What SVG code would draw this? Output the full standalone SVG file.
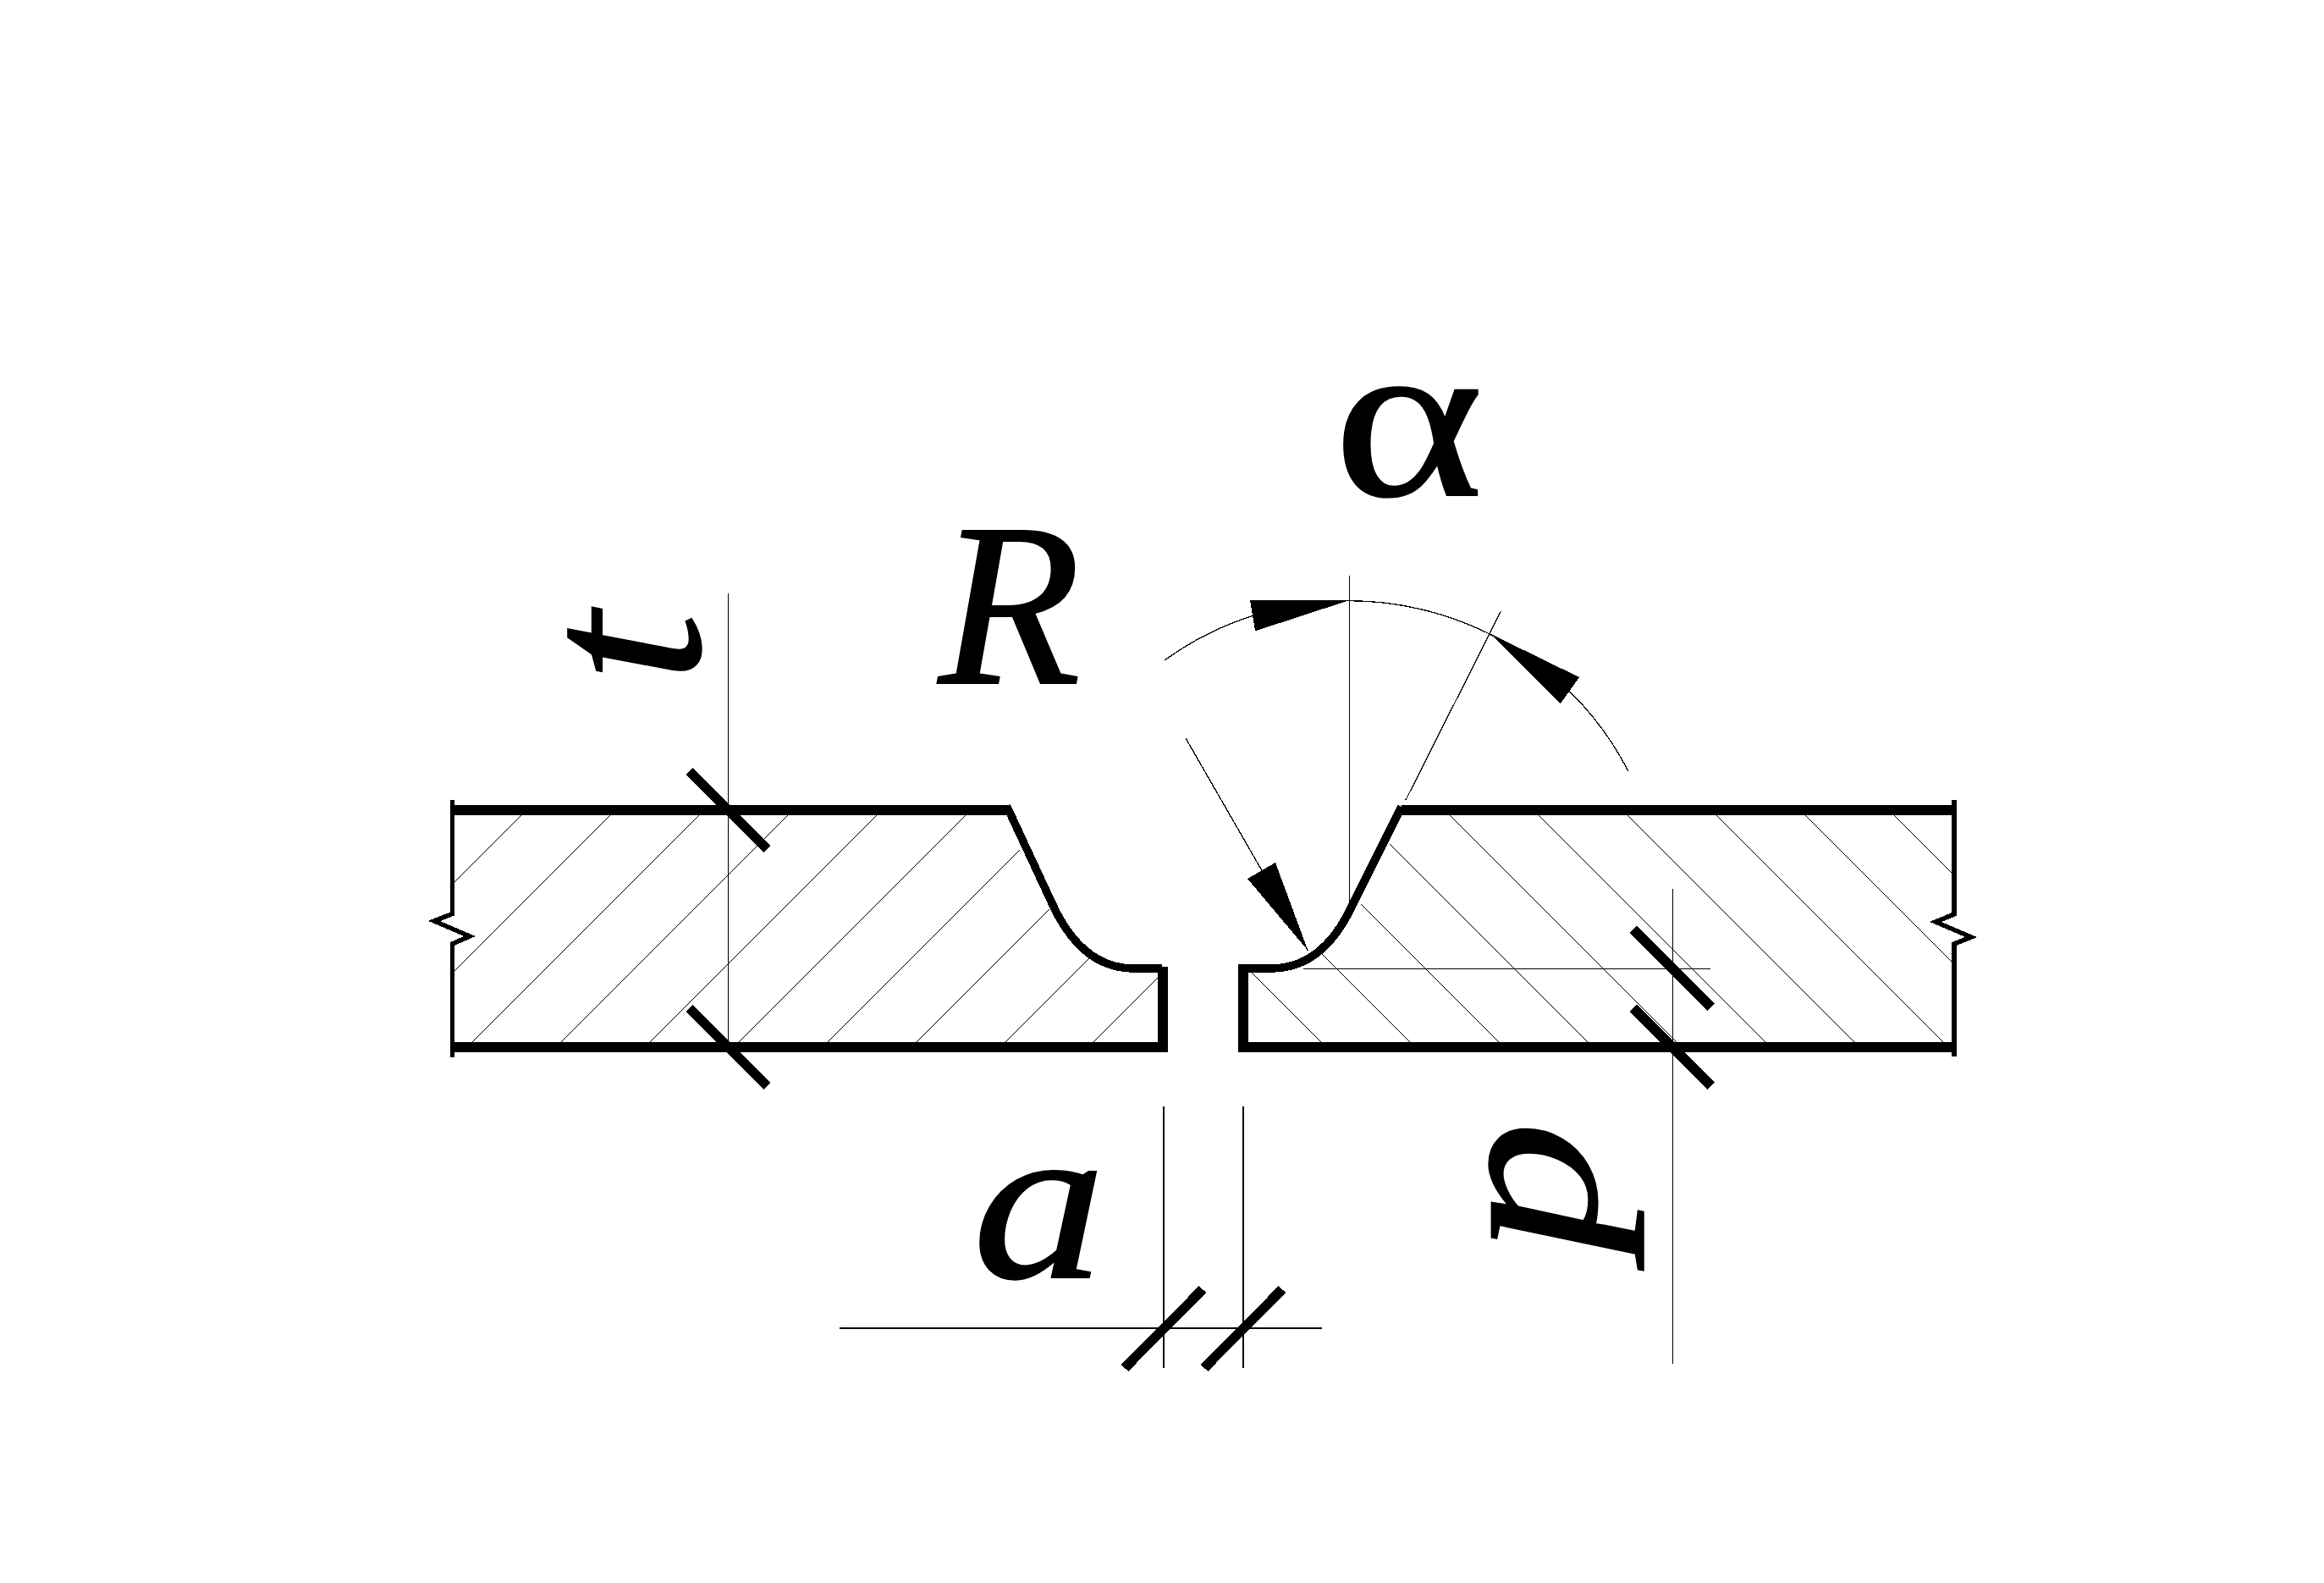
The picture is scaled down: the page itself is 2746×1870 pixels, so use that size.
<svg xmlns="http://www.w3.org/2000/svg" width="2746" height="1870" viewBox="0 0 2746 1870">
<style>
path{shape-rendering:crispEdges}
.thin{fill:none;stroke:#000;stroke-width:1.3}
.edge{fill:none;stroke:#000;stroke-width:12;stroke-linecap:butt}
.wall{fill:none;stroke:#000;stroke-width:5.5}
.curve{fill:none;stroke:#000;stroke-width:9.5;stroke-linejoin:miter}
.tick{fill:none;stroke:#000;stroke-width:11.5}
.lbl{font-family:"Liberation Serif","Times New Roman",serif;font-size:275px;fill:#000;stroke:#000;stroke-width:2}
.it{font-style:italic}
</style>
<rect width="2746" height="1870" fill="#fff"/>
<g id="hatch-left" class="thin">
<path d="M536 1043L616 963M536 1148L721 963M558 1231L826 963M663 1231L931 963M768 1231L1036 963M873 1231L1141 963M978 1231L1205 1004M1083 1231L1240 1074M1188 1231L1289 1130M1292 1231L1370 1153"/>
</g>
<g id="hatch-right" class="thin">
<path d="M1479 1149L1561 1231M1561 1126L1666 1231M1608 1068L1771 1231M1642 997L1876 1231M1712 962L1981 1231M1817 962L2086 1231M1922 962L2191 1231M2027 962L2296 1231M2132 962L2307 1137M2237 962L2307 1032"/>
</g>
<g id="dim-lines" class="thin">
<path d="M860.6 701V1237M1976.5 1050V1611M1540 1144.4H2021M1375 1307V1616M1469 1307V1616M992 1569H1562M1594.6 680V1072M1773.5 722L1661 945M1401 872L1545.5 1123"/>
<path d="M1376 780A372 372 0 0 1 1924 911"/>
</g>
<g id="plate-left">
<path class="edge" d="M532 957H1192M532 1237H1379M1373.5 1142V1243"/>
<path class="wall" d="M534.5 945V1079.5L513 1088L555 1106L534.5 1115V1249"/>
<path class="curve" d="M1189.5 952L1243 1067C1258 1100 1286 1143 1338 1144H1373"/>
</g>
<g id="plate-right">
<path class="edge" d="M1656 957H2311.5M1463 1237H2311.5M1468.5 1139V1243"/>
<path class="wall" d="M2309 945V1080L2287 1089L2329 1107L2309 1115V1248"/>
<path class="curve" d="M1656 953L1599 1067C1584 1100 1556 1143 1504 1144H1468"/>
</g>
<g id="ticks" class="tick">
<path d="M814.6 911L906.6 1003M814.6 1191L906.6 1283M1930 1098L2022 1190M1930 1191L2022 1283M1329 1616L1421 1523M1423 1616L1515 1523"/>
</g>
<g id="arrowheads" fill="#000">
<path d="M1594.6 709L1477 709L1483 745.5Z"/>
<path d="M1761.6 749L1866 800L1844 831Z"/>
<path d="M1545.5 1123L1474 1038L1507 1019Z"/>
</g>
<g id="labels" class="lbl">
<text transform="translate(1575.4 585) scale(1.19 .95)" style="font-size:285px">α</text>
<text x="1109" y="807" class="it">R</text>
<text transform="translate(1149 1509) scale(1.147 .974)" class="it">a</text>
<text transform="translate(826 806) rotate(-90) scale(1.08 1)" class="it">t</text>
<text transform="translate(1885 1482) rotate(-90) scale(1.146 .97)" class="it">p</text>
</g>
</svg>
